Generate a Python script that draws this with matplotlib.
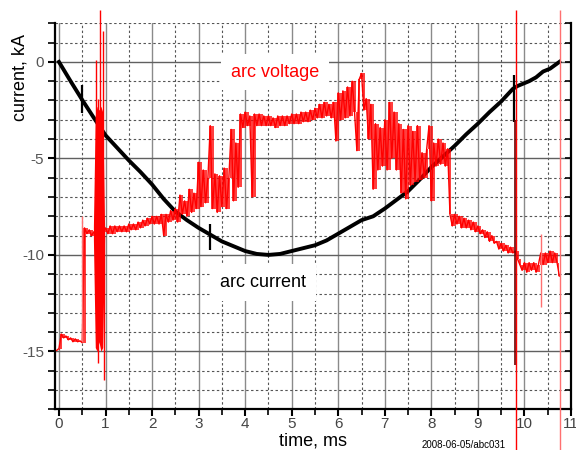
import numpy as np
import matplotlib
matplotlib.use("Agg")
import matplotlib.pyplot as plt
from matplotlib.ticker import MultipleLocator

plt.rcParams['font.family'] = ['Liberation Sans', 'DejaVu Sans']
plt.rcParams['axes.unicode_minus'] = False

# ---------------- data (kA on the current scale, time in ms) ----------------
# arc current, sampled every 0.25 ms up to 9.75 ms, then the tail
cur_t = [0.00, 0.25, 0.50, 0.75, 1.00, 1.25, 1.50, 1.75, 2.00, 2.25, 2.50, 2.75,
         3.00, 3.25, 3.50, 3.75, 4.00, 4.25, 4.50, 4.75, 5.00, 5.25, 5.50, 5.75,
         6.00, 6.25, 6.50, 6.75, 7.00, 7.25, 7.50, 7.75, 8.00, 8.25, 8.50, 8.75,
         9.00, 9.25, 9.50, 9.75, 9.85, 10.00, 10.10, 10.25, 10.40, 10.55, 10.75]
cur_v = [0.0, -1.0, -1.97, -2.9, -3.8, -4.45, -5.1, -5.7, -6.35, -7.1, -7.75, -8.2,
         -8.6, -8.95, -9.3, -9.55, -9.8, -9.95, -10.0, -9.95, -9.8, -9.65, -9.5, -9.25,
         -8.9, -8.55, -8.2, -8.0, -7.6, -7.15, -6.7, -6.1, -5.45, -4.9, -4.35, -3.75,
         -3.2, -2.6, -2.05, -1.4, -1.25, -1.1, -1.0, -0.8, -0.5, -0.35, 0.0]
# short glitches on the current trace
cur_glitch_t = [0.50, 3.24, 9.78]
cur_glitch_top = [-1.2, -8.4, -0.7]
cur_glitch_bot = [-2.65, -9.75, -3.1]

# arc voltage (displayed on the same scale), sampled every 0.05 ms from -0.05 ms
volt_t0 = -0.05
volt_dt = 0.05
volt_v = [-14.95,
    # 0.00 - 0.95
    -14.85, -14.1, -14.3, -14.2, -14.4, -14.3, -14.5, -14.35, -14.5, -14.45,
    -14.55, -8.6, -8.9, -8.7, -9.0, -8.8, -9.0, -8.8, -9.0, -8.8,
    # 1.00 - 1.95
    -8.6, -8.9, -8.5, -8.9, -8.5, -8.8, -8.5, -8.8, -8.5, -8.8,
    -8.4, -8.7, -8.4, -8.7, -8.3, -8.6, -8.2, -8.5, -8.1, -8.4,
    # 2.00 - 2.95
    -8.0, -8.4, -8.0, -8.4, -7.9, -9.0, -7.9, -8.3, -7.7, -8.2,
    -7.6, -8.3, -6.9, -7.9, -7.2, -8.0, -6.6, -7.8, -6.8, -7.6,
    # 3.00 - 3.95
    -5.2, -7.5, -5.6, -7.3, -6.0, -3.3, -7.6, -5.8, -7.8, -5.9,
    -7.5, -5.5, -7.6, -6.0, -3.5, -7.2, -4.2, -6.5, -2.7, -3.4,
    # 4.00 - 4.95
    -2.6, -3.3, -2.8, -7.0, -2.7, -3.3, -2.7, -3.3, -2.8, -3.3,
    -2.8, -3.3, -2.9, -3.4, -2.8, -3.3, -2.8, -3.3, -2.8, -3.2,
    # 5.00 - 5.95
    -2.7, -3.2, -2.7, -3.2, -2.6, -3.1, -2.6, -3.1, -2.5, -3.0,
    -2.4, -2.9, -2.2, -2.9, -2.1, -2.8, -2.2, -2.9, -2.1, -4.1,
    # 6.00 - 6.95
    -1.6, -3.0, -1.5, -2.9, -1.3, -2.8, -1.0, -2.6, -4.6, -0.9,
    -0.6, -2.5, -1.9, -4.0, -2.2, -6.6, -3.2, -5.6, -3.4, -5.4,
    # 7.00 - 7.95
    -3.0, -5.6, -2.1, -5.0, -2.6, -5.6, -3.2, -6.8, -3.5, -7.1,
    -3.3, -6.4, -3.6, -6.2, -3.3, -6.1, -4.7, -6.0, -4.5, -3.3,
    # 8.00 - 8.95
    -7.2, -4.2, -5.4, -4.0, -5.3, -4.2, -5.4, -4.5, -7.9, -8.5,
    -7.9, -8.4, -8.0, -8.6, -8.1, -8.6, -8.2, -8.7, -8.3, -8.8,
    # 9.00 - 9.95
    -8.5, -8.9, -8.7, -9.1, -8.8, -9.3, -9.0, -9.4, -9.3, -9.7,
    -9.4, -9.8, -9.5, -9.9, -9.6, -9.9, -9.8, -10.2, -10.5, -10.8,
    # 10.00 - 10.75
    -10.4, -10.9, -10.4, -10.8, -10.4, -10.9, -10.5, -9.9, -10.5, -9.9,
    -10.4, -9.8, -10.4, -9.9, -10.4, -11.1]

# breakdown burst near 0.9 ms: envelope of the dense oscillation
burst_t = [0.74, 0.78, 0.82, 0.86, 0.90, 0.94, 0.98]
burst_hi = [-8.5, -2.8, -2.3, -2.5, -2.3, -2.6, -8.5]
burst_lo = [-9.2, -14.8, -15.0, -14.5, -15.0, -14.8, -9.2]

# narrow voltage spikes (time, top, bottom)
spike_t = [0.79, 0.84, 0.89, 0.95, 0.83, 0.97, 9.81]
spike_top = [0.1, -1.9, 2.7, 1.6, -9.0, -9.0, 2.7]
spike_bot = [-9.0, -9.0, -9.0, -9.0, -15.6, -16.5, -20.1]
pale_spike_t = [0.50, 10.36, 10.76]
pale_spike_top = [-8.0, -8.9, 2.7]
pale_spike_bot = [-14.5, -12.7, -20.1]
dark_spike_t = [9.79]
dark_spike_top = [-3.0]
dark_spike_bot = [-15.7]

# axis ranges
x_range = (-0.085, 11.0)
y_range = (-18, 2)

# ---------------- figure ----------------
W, H = 576, 450
fig = plt.figure(figsize=(W / 100, H / 100), dpi=100)
ax = fig.add_axes([55 / W, 1 - 409.3 / H, 516 / W, 386 / H])
ax.set_xlim(*x_range)
ax.set_ylim(*y_range)
ax.set_axisbelow(True)

ax.xaxis.set_major_locator(MultipleLocator(1))
ax.xaxis.set_minor_locator(MultipleLocator(0.5))
ax.yaxis.set_major_locator(MultipleLocator(5))
ax.yaxis.set_minor_locator(MultipleLocator(1))

ax.grid(which='major', axis='x', color='#8a8a8a', lw=1.0, ls='-')
ax.grid(which='minor', axis='x', color='#555555', lw=0.8, ls=(0, (2.2, 2.2)))
ax.grid(which='major', axis='y', color='#606060', lw=1.0, ls='-')
ax.grid(which='minor', axis='y', color='#555555', lw=0.8, ls=(0, (2.2, 2.2)))

for side in ['left', 'bottom', 'right']:
    ax.spines[side].set_color('black')
    ax.spines[side].set_linewidth(1.6)
ax.spines['top'].set_visible(False)

ax.tick_params(axis='x', which='major', direction='out', length=5, width=1.5,
               labelsize=11, labelcolor='#444444', pad=0.5)
ax.tick_params(axis='x', which='minor', direction='out', length=4, width=1.2)
ax.tick_params(axis='y', which='major', direction='out', length=5, width=1.5,
               labelsize=11, labelcolor='#555555', pad=3)
ax.tick_params(axis='y', which='minor', direction='out', length=5, width=1.2)

axr = ax.twinx()
axr.set_ylim(*y_range)
axr.yaxis.set_major_locator(MultipleLocator(5))
axr.yaxis.set_minor_locator(MultipleLocator(1))
axr.tick_params(axis='y', which='both', direction='in', length=4, width=1.2,
                labelright=False)
for s in axr.spines.values():
    s.set_visible(False)

# current
ax.plot(cur_t, cur_v, color='black', lw=2.8, zorder=3, solid_joinstyle='round')
ax.vlines(cur_glitch_t, cur_glitch_bot, cur_glitch_top, color='black', lw=1.6, zorder=3)

# voltage: dense oscilloscope trace -> fill the span between neighbouring samples
volt_t = np.round(volt_t0 + volt_dt * np.arange(len(volt_v)), 3)
vv = np.asarray(volt_v)
pair_lo = np.minimum(vv[:-1], vv[1:])
pair_hi = np.maximum(vv[:-1], vv[1:])
ax.fill_between(volt_t[1:], pair_lo, pair_hi, step='mid', color='#ff0000',
                alpha=0.75, lw=0, zorder=4)
ax.fill_between(burst_t, burst_lo, burst_hi, color='#ff0000', lw=0, zorder=4)
ax.plot(volt_t, volt_v, color='#ff0000', lw=1.0, zorder=4)
ax.vlines(spike_t, spike_bot, spike_top, color='#ff0000', lw=1.0, zorder=4, clip_on=False)
ax.vlines(pale_spike_t, pale_spike_bot, pale_spike_top, color='#ff7070', lw=1.0,
          zorder=4, clip_on=False)
ax.vlines(dark_spike_t, dark_spike_bot, dark_spike_top, color='#700000', lw=1.2, zorder=4)

# annotations
ax.text(4.64, -0.53, 'arc voltage', color='#ff0000', fontsize=13, ha='center',
        va='center', zorder=2, bbox=dict(facecolor='white', edgecolor='none', pad=7))
ax.text(4.38, -11.42, 'arc current', color='black', fontsize=13, ha='center',
        va='center', zorder=2, bbox=dict(facecolor='white', edgecolor='none', pad=7))

fig.text(20 / W, 1 - 77.5 / H, 'current, kA', rotation=90, fontsize=13,
         ha='center', va='center', color='black')
fig.text(313 / W, 1 - 446 / H, 'time, ms', fontsize=13, ha='center', va='baseline',
         color='black')
fig.text(464 / W, 1 - 448 / H, '2008-06-05/abc031', fontsize=7, ha='center',
         va='baseline', color='black')

fig.savefig('out.png', dpi=100)
